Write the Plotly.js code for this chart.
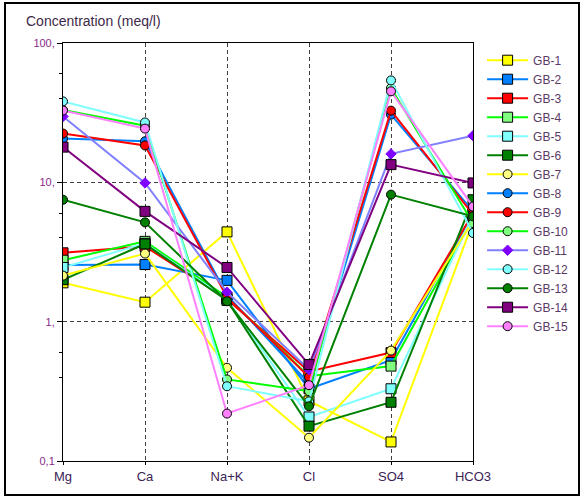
<!DOCTYPE html>
<html>
<head>
<meta charset="utf-8">
<script src="https://cdn.plot.ly/plotly-3.0.1.min.js"></script>
<style>
  html, body { margin:0; padding:0; background:#fff; }
  #chart { width:586px; height:499px; position:absolute; left:0; top:0; }
  #frame { position:absolute; left:4px; top:2px; width:576px; height:494px; border:2px solid #000; box-sizing:border-box; pointer-events:none; }
</style>
</head>
<body>
<div id="chart"></div>
<div id="frame"></div>
<script>
const categories = ['Mg', 'Ca', 'Na+K', 'Cl', 'SO4', 'HCO3'];
const seriesNames = ['GB-1','GB-2','GB-3','GB-4','GB-5','GB-6','GB-7','GB-8','GB-9','GB-10','GB-11','GB-12','GB-13','GB-14','GB-15'];
const gb1  = [1.90, 1.38, 4.41, 0.27, 0.137, 5.2];
const gb2  = [2.55, 2.57, 1.98, 0.33, 0.53, 6.0];
const gb3  = [3.12, 3.47, 1.45, 0.44, 0.60, 6.0];
const gb4  = [2.76, 3.77, 1.50, 0.406, 0.48, 5.5];
const gb5  = [2.45, 3.65, 1.45, 0.207, 0.33, 5.8];
const gb6  = [2.00, 3.61, 1.42, 0.178, 0.264, 7.5];
const gb7  = [2.14, 3.08, 0.467, 0.147, 0.62, 5.3];
const gb8  = [20.6, 19.7, 1.55, 0.36, 30.6, 6.2];
const gb9  = [22.4, 18.4, 1.50, 0.40, 32.7, 5.9];
const gb10 = [33.0, 25.5, 0.385, 0.317, 47.5, 5.1];
const gb11 = [29.7, 9.9, 1.63, 0.453, 16.0, 21.6];
const gb12 = [38.1, 26.9, 0.344, 0.268, 53.9, 4.33];
const gb13 = [7.5, 5.16, 1.40, 0.247, 8.16, 5.7];
const gb14 = [17.9, 6.19, 2.45, 0.492, 13.4, 9.9];
const gb15 = [32.8, 24.3, 0.219, 0.35, 45.0, 6.7];
const yTickVals = [0.1, 1, 10, 100];
const yTickText = ['0,1', '1,', '10,', '100,'];

const values = [gb1,gb2,gb3,gb4,gb5,gb6,gb7,gb8,gb9,gb10,gb11,gb12,gb13,gb14,gb15];
const lineColors = ['#FFFF00','#0080FF','#FF0000','#00FF00','#80FFFF','#008000','#FFFF00','#0080FF','#FF0000','#00FF00','#8080FF','#80FFFF','#008000','#800080','#FF80FF'];
const markColors = ['#FFFF00','#0080FF','#FF0000','#80FF80','#80FFFF','#008000','#FFFF80','#0080FF','#FF0000','#80FF80','#8000FF','#80FFFF','#008000','#800080','#FF80FF'];
const symbols = ['square','square','square','square','square','square','circle','circle','circle','circle','diamond','circle','circle','square','circle'];
const sizes = [10,10,10,10,10,10,9,9,9,9,8,9,9,10,9];

const traces = values.map((v, i) => ({
  type: 'scatter',
  mode: 'lines+markers',
  name: seriesNames[i],
  x: categories,
  y: v,
  line: { color: lineColors[i], width: 2 },
  marker: {
    symbol: symbols[i], size: sizes[i], color: markColors[i],
    line: { color: symbols[i] === 'diamond' ? markColors[i] : '#000000', width: 1 }
  }
}));

const layout = {
  width: 586, height: 499,
  margin: { l: 62.7, r: 104.3, t: 43.3, b: 37.5, pad: 0 },
  paper_bgcolor: '#ffffff', plot_bgcolor: '#ffffff',
  font: { family: 'Liberation Sans, Arial, sans-serif', size: 12, color: '#4a3050' },
  title: {
    text: 'Concentration (meq/l)',
    font: { size: 14, color: '#3e2a48', family: 'Liberation Sans, Arial, sans-serif' },
    xref: 'container', yref: 'container', x: 26/586, xanchor: 'left', y: 1 - 21/499, yanchor: 'middle'
  },
  xaxis: {
    type: 'category', range: [0, 5], categoryorder: 'array', categoryarray: categories,
    showline: true, linecolor: '#000', linewidth: 1, mirror: true,
    ticks: 'outside', ticklen: 3, tickcolor: '#000',
    showgrid: true, gridcolor: '#404040', gridwidth: 1, griddash: '4px,3px',
    tickfont: { size: 13, color: '#3c2458' },
    zeroline: false, fixedrange: true
  },
  yaxis: {
    type: 'log', range: [-1, 2],
    tickvals: yTickVals, ticktext: yTickText,
    showline: true, linecolor: '#000', linewidth: 1, mirror: true,
    ticks: 'outside', ticklen: 5, tickcolor: '#000',
    showgrid: true, gridcolor: '#404040', gridwidth: 1, griddash: '4px,3px',
    tickfont: { size: 11, color: '#8a2a8a' },
    minor: { tickvals: [0.4, 0.6, 4, 6, 40, 60], ticks: 'outside', ticklen: 3, tickcolor: '#000', showgrid: false },
    zeroline: false, fixedrange: true
  },
  showlegend: true,
  legend: {
    x: (491 - 62.7) / 419, xanchor: 'left',
    y: (461.5 - 46) / 418.2, yanchor: 'top',
    itemwidth: 41, bgcolor: 'rgba(0,0,0,0)', borderwidth: 0,
    font: { size: 12, color: '#5a3a66' }, tracegroupgap: 0
  }
};

Plotly.newPlot('chart', traces, layout, { staticPlot: true, displayModeBar: false });
</script>
</body>
</html>
